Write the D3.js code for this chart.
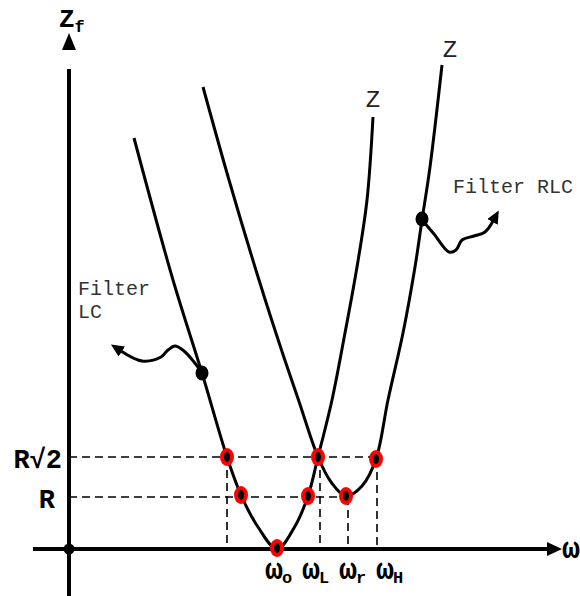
<!DOCTYPE html>
<html>
<head>
<meta charset="utf-8">
<script src="https://cdn.jsdelivr.net/npm/d3@7"></script>
<style>
  body { margin: 0; background: #fff; }
  text { font-family: "Liberation Mono", "Courier New", monospace; }
</style>
</head>
<body>
<div id="chart"></div>
<script>
   var svgWidth = 580;
   var svgHeight = 596;

   // impedance curves, x = omega units, y = Z units
   var curveLC = [[1.30, 8.22], [2.08, 5.38], [2.66, 3.52], [3.16, 1.84], [3.44, 1.08], [3.78, 0.44],
       [4.16, 0.00], [4.50, 0.42], [4.78, 1.06], [4.98, 1.84], [5.26, 2.98], [5.52, 4.32], [5.76, 5.64], [5.96, 6.98], [6.08, 8.64]];
   var curveRLC = [[2.68, 9.24], [3.20, 7.38], [3.80, 5.38], [4.25, 3.98], [4.59, 2.98], [4.98, 1.84], [5.24, 1.34],
       [5.54, 1.06], [5.86, 1.26], [6.14, 1.80], [6.38, 2.98], [6.68, 4.32], [6.92, 5.64], [7.06, 6.58], [7.22, 7.64], [7.46, 9.68]];

   // labelled points
   var redPoints = [[3.16, 1.84], [3.44, 1.08], [4.16, 0.02], [4.78, 1.06], [4.98, 1.84], [5.54, 1.06], [6.14, 1.80]];
   var blackPoints = [[2.66, 3.52], [7.06, 6.60]];

   // guide levels and omega marks
   var levels = [1.84, 1.04];
   var levelLabels = ["R\u221A2", "R"];
   var levelEnds = [6.14, 5.54];
   var dropLines = [[3.16, 1.84], [5.02, 1.84], [5.58, 1.04], [6.16, 1.80]];
   var omegaTicks = [4.16, 5.02, 5.58, 6.16];
   var omegaSubs = ["o", "L", "r", "H"];

   // annotation arrows
   var arrowLC = [[2.68, 3.50], [2.50, 3.74], [2.30, 3.96], [2.12, 4.06], [1.98, 3.98], [1.84, 3.84], [1.46, 3.76], [1.04, 3.96]];
   var arrowRLC = [[7.06, 6.58], [7.30, 6.30], [7.60, 5.94], [7.74, 5.98], [7.86, 6.18], [8.10, 6.26], [8.32, 6.34], [8.48, 6.56]];
   var curveNames = [["Z", 6.08, 8.84], ["Z", 7.62, 9.84]];

   var svg = d3.select("#chart")
       .append("svg")
       .attr("width", svgWidth)
       .attr("height", svgHeight);

   var xScale = d3.scaleLinear().domain([0, 10]).range([69, 569]);
   var yScale = d3.scaleLinear().domain([0, 10]).range([549, 49]);

   var defs = svg.append("defs");
   defs.append("marker")
       .attr("id", "head")
       .attr("viewBox", "0 0 13 12")
       .attr("refX", 1)
       .attr("refY", 6)
       .attr("markerWidth", 13)
       .attr("markerHeight", 12)
       .attr("markerUnits", "userSpaceOnUse")
       .attr("orient", "auto")
       .append("path")
       .attr("d", "M0,0 L13,6 L0,12 Z")
       .attr("fill", "#000");

   // dashed guides
   var guides = svg.append("g")
       .attr("stroke", "#000")
       .attr("stroke-width", 1.6)
       .attr("stroke-dasharray", "8,5");

   guides.selectAll(".hguide")
       .data(levels)
       .enter()
       .append("line")
       .attr("x1", xScale(0))
       .attr("x2", (d, i) => xScale(levelEnds[i]))
       .attr("y1", d => yScale(d))
       .attr("y2", d => yScale(d));

   guides.selectAll(".vguide")
       .data(dropLines)
       .enter()
       .append("line")
       .attr("x1", d => xScale(d[0]))
       .attr("x2", d => xScale(d[0]))
       .attr("y1", d => yScale(d[1]))
       .attr("y2", yScale(0));

   // axes
   svg.append("line")
       .attr("x1", xScale(0)).attr("x2", xScale(0))
       .attr("y1", svgHeight).attr("y2", yScale(9.6))
       .attr("stroke", "#000").attr("stroke-width", 4);
   svg.append("path")
       .attr("d", `M${xScale(0)},${yScale(10.32)} L${xScale(0) - 7},${yScale(9.98)} L${xScale(0) + 7},${yScale(9.98)} Z`)
       .attr("fill", "#000");

   svg.append("line")
       .attr("x1", xScale(-0.72)).attr("x2", xScale(9.6))
       .attr("y1", yScale(0)).attr("y2", yScale(0))
       .attr("stroke", "#000").attr("stroke-width", 4);
   svg.append("path")
       .attr("d", `M${xScale(9.86)},${yScale(0)} L${xScale(9.56)},${yScale(0) - 7} L${xScale(9.56)},${yScale(0) + 7} Z`)
       .attr("fill", "#000");

   svg.append("circle")
       .attr("cx", xScale(0))
       .attr("cy", yScale(0))
       .attr("r", 5.5)
       .attr("fill", "#000");

   // curves
   var line = d3.line()
       .x(d => xScale(d[0]))
       .y(d => yScale(d[1]))
       .curve(d3.curveCatmullRom.alpha(0.5));

   svg.selectAll(".curve")
       .data([curveLC, curveRLC])
       .enter()
       .append("path")
       .attr("d", line)
       .attr("fill", "none")
       .attr("stroke", "#000")
       .attr("stroke-width", 3);

   // annotation arrows
   svg.selectAll(".note")
       .data([arrowLC, arrowRLC])
       .enter()
       .append("path")
       .attr("d", line)
       .attr("fill", "none")
       .attr("stroke", "#000")
       .attr("stroke-width", 3)
       .attr("stroke-linejoin", "round")
       .attr("marker-end", "url(#head)");

   svg.selectAll(".bdot")
       .data(blackPoints)
       .enter()
       .append("ellipse")
       .attr("cx", d => xScale(d[0]))
       .attr("cy", d => yScale(d[1]))
       .attr("rx", 6.5)
       .attr("ry", 7.5)
       .attr("fill", "#000");

   // red points
   var red = svg.selectAll(".rdot")
       .data(redPoints)
       .enter()
       .append("g")
       .attr("transform", d => `translate(${xScale(d[0])},${yScale(d[1])})`);
   red.append("ellipse").attr("rx", 7).attr("ry", 9).attr("fill", "#ff0000");
   red.append("ellipse").attr("rx", 3).attr("ry", 5).attr("fill", "#000");

   // texts
   var zf = svg.append("text")
       .attr("x", 59)
       .attr("y", 27)
       .style("font-size", "26px")
       .style("font-weight", "bold");
   zf.append("tspan").text("Z");
   zf.append("tspan").attr("dy", 5).style("font-size", "17px").text("f");

   svg.append("text")
       .attr("x", 562)
       .attr("y", 558)
       .style("font-size", "30px")
       .style("font-weight", "bold")
       .text("\u03C9");

   svg.selectAll(".lvl")
       .data(levelLabels)
       .enter()
       .append("text")
       .attr("x", (d, i) => i === 0 ? xScale(0) - 7 : xScale(0) - 14)
       .attr("y", (d, i) => yScale(levels[i]) + 11)
       .style("text-anchor", "end")
       .style("font-size", "27px")
       .style("font-weight", "bold")
       .text(d => d);

   var omegaLabels = svg.selectAll(".omega")
       .data(omegaSubs)
       .enter()
       .append("text")
       .attr("x", (d, i) => xScale(omegaTicks[0]) - 12 + i * 37)
       .attr("y", 579)
       .style("font-size", "30px")
       .style("font-weight", "bold");
   omegaLabels.append("tspan").text("\u03C9");
   omegaLabels.append("tspan").attr("dy", 4).attr("dx", -1).style("font-size", "17px").text(d => d);

   svg.selectAll(".zname")
       .data(curveNames)
       .enter()
       .append("text")
       .attr("x", d => xScale(d[1]))
       .attr("y", d => yScale(d[2]))
       .style("text-anchor", "middle")
       .style("font-size", "24px")
       .style("fill", "#222")
       .text(d => d[0]);

   var notes = svg.append("g")
       .style("font-size", "20px")
       .style("fill", "#333");
   notes.append("text").attr("x", 453).attr("y", 193).text("Filter RLC");
   notes.append("text").attr("x", 78).attr("y", 295).text("Filter");
   notes.append("text").attr("x", 78).attr("y", 318).text("LC");
</script>
</body>
</html>
